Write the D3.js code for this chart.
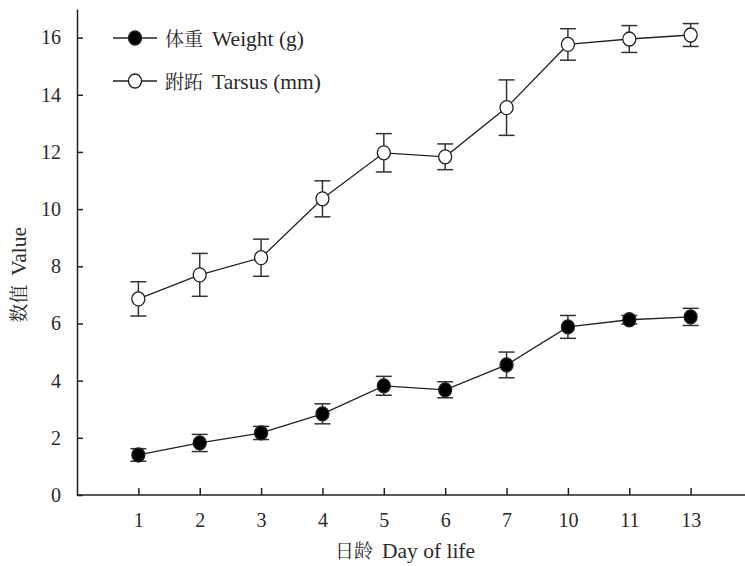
<!DOCTYPE html>
<html>
<head>
<meta charset="utf-8">
<script src="https://cdn.jsdelivr.net/npm/d3@7"></script>
<style>
  body { margin: 0; background: #fff; }
  text { font-family: "Liberation Serif", "Noto Serif CJK SC", serif; fill: #2a2a2a; }
</style>
</head>
<body>
<div class="chart"></div>
<script>
const days = ['1','2','3','4','5','6','7','10','11','13'];
const weightMean = [1.40, 1.82, 2.17, 2.84, 3.82, 3.68, 4.55, 5.88, 6.13, 6.23];
const weightErr  = [0.22, 0.30, 0.23, 0.35, 0.33, 0.28, 0.45, 0.40, 0.15, 0.30];
const tarsusMean = [6.86, 7.70, 8.30, 10.36, 11.97, 11.83, 13.55, 15.76, 15.95, 16.09];
const tarsusErr  = [0.60, 0.75, 0.65, 0.63, 0.67, 0.45, 0.97, 0.55, 0.47, 0.40];
const yTicks = [0, 2, 4, 6, 8, 10, 12, 14, 16];

const W = 745, H = 566;
const margin = {top: 9, left: 77, bottom: 71, right: 0};
const width = W - margin.left - margin.right;
const height = H - margin.top - margin.bottom;

const svg = d3.select('.chart')
    .append('svg')
    .attr('width', W)
    .attr('height', H)
    .append('g')
    .attr('transform', 'translate('+margin.left+','+margin.top+')');

// x: categorical days, equally spaced; axis runs a bit past the frame
const xScale = d3.scalePoint()
    .domain(days)
    .range([0, 675])
    .padding(1);

const yScale = d3.scaleLinear()
    .domain([0, 17])
    .range([height, 0]);

const xAxis = d3.axisBottom(xScale).tickSizeInner(-7).tickSizeOuter(0).tickPadding(18);
const gx = svg.append('g')
    .attr('transform', `translate(0, ${height})`)
    .call(xAxis);
gx.select('.domain').attr('d', `M0,0H${width}`);

const yAxis = d3.axisLeft(yScale).tickValues(yTicks).tickSizeInner(-6).tickSizeOuter(0).tickPadding(16);
const gy = svg.append('g').call(yAxis);

svg.selectAll('.domain, .tick line').attr('stroke', '#222').attr('stroke-width', 1.5);
svg.selectAll('.tick text').attr('font-size', 20).attr('fill', '#2a2a2a')
    .style('font-family', '"Liberation Serif", serif');

const series = [
    {name: 'weight', mean: weightMean, err: weightErr, fill: '#000'},
    {name: 'tarsus', mean: tarsusMean, err: tarsusErr, fill: '#fff'}
];

const line = d3.line()
    .x(d => xScale(d.day))
    .y(d => yScale(d.v));

series.forEach(s => {
    const pts = days.map((day, i) => ({day: day, v: s.mean[i], e: s.err[i]}));
    const g = svg.append('g');

    g.append('path')
        .datum(pts)
        .attr('d', line)
        .attr('fill', 'none')
        .attr('stroke', '#222')
        .attr('stroke-width', 1.3);

    const eb = g.selectAll('.eb')
        .data(pts)
        .enter()
        .append('g')
        .attr('stroke', '#333')
        .attr('stroke-width', 1.5);
    eb.append('line')
        .attr('x1', d => xScale(d.day)).attr('x2', d => xScale(d.day))
        .attr('y1', d => yScale(d.v + d.e)).attr('y2', d => yScale(d.v - d.e));
    eb.append('line')
        .attr('x1', d => xScale(d.day) - 8).attr('x2', d => xScale(d.day) + 8)
        .attr('y1', d => yScale(d.v + d.e)).attr('y2', d => yScale(d.v + d.e));
    eb.append('line')
        .attr('x1', d => xScale(d.day) - 8).attr('x2', d => xScale(d.day) + 8)
        .attr('y1', d => yScale(d.v - d.e)).attr('y2', d => yScale(d.v - d.e));

    g.selectAll('.pt')
        .data(pts)
        .enter()
        .append('ellipse')
        .attr('cx', d => xScale(d.day))
        .attr('cy', d => yScale(d.v))
        .attr('rx', 6.5)
        .attr('ry', 7)
        .attr('fill', s.fill)
        .attr('stroke', '#222')
        .attr('stroke-width', 1.3);
});

// mixed-language label: CJK part slightly smaller than the Latin part
function label(sel, zh, en) {
    sel.append('tspan').attr('font-size', 19)
        .style('font-family', '"Noto Serif CJK SC", serif').text(zh);
    sel.append('tspan').attr('font-size', 21.5).attr('dx', 9).text(en);
}

// legend
const legend = [
    {zh: '体重', en: 'Weight (g)', fill: '#000'},
    {zh: '跗跖', en: 'Tarsus (mm)', fill: '#fff'}
];
const lg = svg.selectAll('.legend')
    .data(legend)
    .enter()
    .append('g')
    .attr('transform', (d, i) => `translate(36, ${29 + i * 43})`);
lg.append('line')
    .attr('x1', 0).attr('x2', 44)
    .attr('stroke', '#222').attr('stroke-width', 1.3);
lg.append('ellipse')
    .attr('cx', 22).attr('rx', 6.5).attr('ry', 7)
    .attr('fill', d => d.fill)
    .attr('stroke', '#222').attr('stroke-width', 1.3);
lg.append('text')
    .attr('x', 52)
    .attr('y', 8)
    .each(function(d) { label(d3.select(this), d.zh, d.en); });

svg.append('text')
    .attr('x', 328)
    .attr('y', height + 63)
    .attr('text-anchor', 'middle')
    .call(label, '日龄', 'Day of life');

svg.append('text')
    .attr('transform', `translate(-51, ${yScale(7.7)}) rotate(-90)`)
    .attr('text-anchor', 'middle')
    .call(label, '数值', 'Value');
</script>
</body>
</html>
